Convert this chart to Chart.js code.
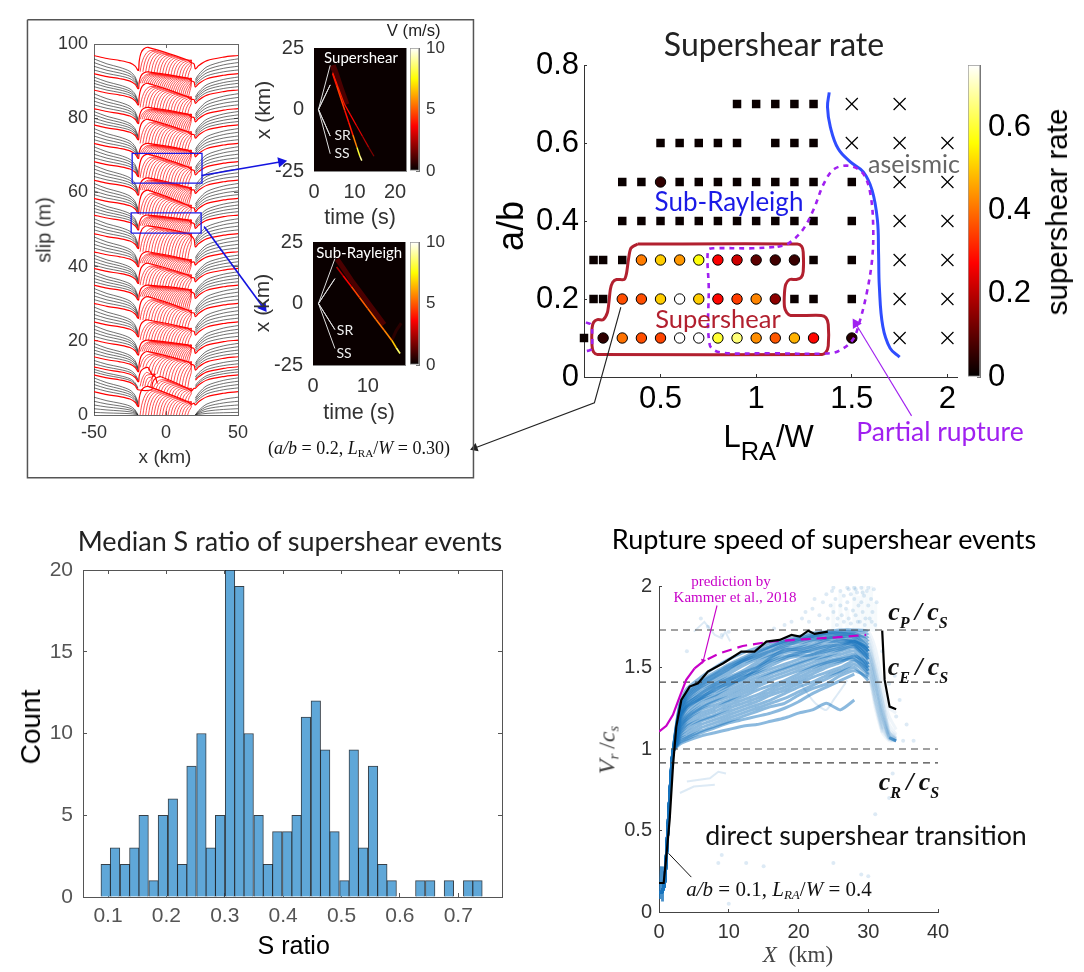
<!DOCTYPE html>
<html>
<head>
<title>Supershear rate</title>
<script src="https://cdn.jsdelivr.net/npm/chart.js"></script>
<style>
  html, body { margin: 0; background: #fff; }
  #page { position: relative; width: 1084px; height: 972px; overflow: hidden; }
  canvas { position: absolute; }
  .lbl { position: absolute; white-space: nowrap; line-height: 1; z-index: 20; }
  .lo { font-size: .62em; vertical-align: -.3em; line-height: 0; }
  .lo2 { font-size: .62em; vertical-align: -.5em; line-height: 0; }
</style>
</head>
<body>
<div id="page"></div>
<script>
// ---- slip history panel, one row per event, lowest first (m)
const farLevels = [6.3,10.8,13,15.7,20.2,25.1,30.1,35,39.5,44,48.9,53.9,58.4,63.3,68.3,73.2,78.2,82.6,87.6,92,96.9];
const topLeft   = [7.7,10.3,12.8,17.1,20.2,25.6,31.9,35,40.9,44,51,53.9,60.6,63.9,70.3,73.2,79.7,82.9,89.4,92.5,99.1];
const topRight  = [3.6,7.2,11,14.4,18.9,23.4,28.3,33.9,37.8,41.9,49,52.6,56.6,61.4,66.9,71.4,76.4,81.1,85.8,90.8,95.7];
const blobLeft  = [-18,-9,-18,-18,-18,-18,-18,-18,-18,-18,-18,-18,-18,-18,-18,-18,-18,-18,-18,-18,-18];
const blobRight = [18,18,-7,18,18,18,18,18,18,18,18,18,18,18,18,18,18,18,18,18,18];
const stripes   = [18,14,6,18,26,18,18,26,18,26,18,26,18,26,18,26,18,26,18,26,18];
const blackLevels = [0.7,1.7,2.7,3.7,4.8,7.3,8.2,9.1,10,11.6,12.3,13.8,14.7,16.6,17.5,18.4,19.3,21.2,22.2,23.1,24.1,26.1,27.1,28.1,29.1,31.1,32.1,33.1,34.1,35.9,36.8,37.7,38.6,40.4,41.3,42.2,43.1,45,46,47,48,49.9,50.9,51.9,52.9,54.8,55.7,56.6,57.5,59.4,60.4,61.4,62.4,64.3,65.3,66.3,67.3,69.3,70.3,71.3,72.3,74.2,75.2,76.2,77.2,79.1,80,80.9,81.8,83.6,84.6,85.6,86.6,88.5,89.4,90.2,91.1,93,94,95,96];
const leftEdgeX = [-50,-41,-32,-25,-21.4,-19.5];
const leftEdgeDrop = [0,.2,.34,.5,.72,1];
const rightEdgeX = [20.4,22.7,28.5,40,50];
const rightEdgeDrop = [1,.75,.38,.12,0];
const rect1X = [-23.5,25,25,-23.5,-23.5], rect1Y = [62.5,62.5,70.5,70.5,62.5];
const rect2X = [-24.2,24.4,24.4,-24.2,-24.2], rect2Y = [49,49,54.5,54.5,49];

// ---- velocity insets (time s, x km, V m/s)
const ss1T = [4.6,5.6,6.6,7.6,8.6,9.6,10.6,11.3,11.8];
const ss1X = [14.5,9.6,4.6,-0.4,-5.4,-10.4,-15.4,-18.9,-20.8];
const ss1V = [4,4.5,4.5,3.8,4,5.5,8,9,6];
const sr1T = [4.6,6,7.5,9,10.5,12,13.5,14.8];
const sr1X = [15,8.8,2.2,-2.2,-6.6,-11,-15.4,-19];
const sr1V = [4,4,3.8,3.6,3.2,2.6,1.8,.7];
const glow1T = [4.6,5.4,6.5,8], glow1X = [18,14.5,9,2];
const rule1T = [4,1.1,4,1.1,4,1.1,4], rule1X = [18,0,10,0,-10.8,0,-18];
const main2T = [4.3,5.5,7,8.5,10,11.5,13,14.4,15.2,15.9];
const main2X = [14.8,11.3,6.9,2.4,-2,-6.5,-10.9,-15,-18,-20.3];
const main2V = [2.5,3.6,4.6,5,5.2,5.3,5.6,6.6,8.5,4.5];
const glow2T = [4.4,5.5,7,9,11,13], glow2X = [18,14.5,9.5,3.5,-2.5,-8.5];
const tail2T = [14.4,15.2,16.1], tail2X = [-15,-11,-8];
const rule2T = [4,1,4,1,4,1,4], rule2X = [18.2,0,10.1,0,-10.6,0,-18.3];

// ---- supershear rate map (L_RA/W, a/b, rate)
const squareX = [.9,1,1.1,1.2,1.3, .5,.6,.7,.8,.9,1.1,1.2,1.3, .3,.4,.6,.7,.8,.9,1,1.1,1.2,1.3,1.5, .3,.4,.5,.6,.7,.8,.9,1,1.1,1.2,1.3,1.5, .15,.2,.3,1.3,1.5, .15,.2,1.2,1.3,1.5, .1];
const squareY = [.7,.7,.7,.7,.7, .6,.6,.6,.6,.6,.6,.6,.6, .5,.5,.5,.5,.5,.5,.5,.5,.5,.5,.5, .4,.4,.4,.4,.4,.4,.4,.4,.4,.4,.4,.4, .3,.3,.3,.3,.3, .2,.2,.2,.2,.2, .1];
const crossX = [1.5,1.75, 1.5,1.75,2, 1.75,2, 1.75,2, 1.75,2, 1.75,2, 1.75,2];
const crossY = [.7,.7, .6,.6,.6, .5,.5, .4,.4, .3,.3, .2,.2, .1,.1];
const circleX = [.5, .4,.5,.6,.7,.8,.9,1,1.1,1.2, .3,.4,.5,.6,.7,.8,.9,1,1.1, .2,.3,.4,.5,.6,.7,.8,.9,1,1.1,1.2,1.3,1.5];
const circleY = [.5, .3,.3,.3,.3,.3,.3,.3,.3,.3, .2,.2,.2,.2,.2,.2,.2,.2,.2, .1,.1,.1,.1,.1,.1,.1,.1,.1,.1,.1,.1,.1];
const circleRate = [.05, .41,.5,.44,.57,.27,.22,.1,.07,.06, .36,.36,.5,.75,.5,.28,.34,.42,.15, .05,.4,.36,.35,.75,.75,.6,.65,.43,.37,.47,.28,.04];
const aseismicX = [1.382,1.373,1.388,1.429,1.494,1.56,1.606,1.634,1.64,1.644,1.662,1.70,1.75];
const aseismicY = [.73,.692,.641,.585,.551,.526,.479,.402,.317,.232,.13,.074,.051];
const partialX = [1.112,1.168,1.243,1.299,1.354,1.41,1.494,1.56,1.597,1.612,1.606,1.578,1.541,1.504,1.429,1.354,1.075,.813,.757,.752,.748,.776,.981,1.112];
const partialY = [.334,.342,.377,.428,.496,.534,.541,.521,.47,.385,.3,.215,.142,.095,.066,.06,.061,.063,.083,.232,.325,.33,.33,.334];
const partialLeftX = [.11,.135,.142,.142,.135,.11];
const partialLeftY = [.14,.135,.12,.08,.07,.066];
const ssOutlineX = [.38,1.215,1.238,1.246,1.246,1.235,1.21,1.175,1.155,1.148,1.148,1.16,1.18,1.34,1.365,1.377,1.377,1.365,1.345,.17,.15,.142,.142,.15,.17,.2,.222,.23,.238,.25,.27,.31,.322,.332,.345,.38];
const ssOutlineY = [.341,.341,.335,.32,.27,.255,.25,.25,.238,.215,.18,.165,.158,.158,.152,.135,.08,.064,.058,.058,.064,.08,.125,.14,.147,.147,.165,.19,.225,.243,.25,.25,.265,.3,.33,.341];

// ---- histogram of median S ratio
const binCenters = [.096,.112,.129,.145,.161,.178,.194,.211,.227,.243,.26,.276,.292,.309,.325,.341,.358,.374,.39,.407,.423,.439,.456,.472,.488,.505,.521,.537,.554,.57,.586,.603,.619,.635,.652,.668,.684,.701,.717,.733];
const binCounts = [2,3,2,3,5,1,5,6,2,8,10,3,5,20,19,10,5,2,4,4,5,11,12,9,4,1,9,3,8,2,1,0,0,1,1,0,1,0,1,1];

// ---- rupture speed, shared early rise then one row per event on vrGrid
const riseX = [0,.4,.8,1.2,1.6,2];
const riseV = [.12,.12,.18,.45,.75,.98];
const vrGrid = [3,4,6,8,10,12,14,16,18,20,22,24,26,28,30,31,32,33,34];
const vrCurves = [
  [1.28,1.37,1.44,1.50,1.55,1.59,1.62,1.65,1.67,1.69,1.71,1.72,1.73,1.73,1.72,1.62,1.42,1.25,1.22],
  [1.27,1.34,1.41,1.46,1.51,1.55,1.59,1.63,1.66,1.67,1.69,1.71,1.71,1.70,1.68,1.52,1.32,1.15,1.09],
  [1.26,1.35,1.42,1.47,1.52,1.56,1.60,1.63,1.66,1.68,1.70,1.71,1.72,1.72,1.70,1.55,1.35,1.20,1.12],
  [1.25,1.33,1.40,1.45,1.50,1.54,1.58,1.62,1.65,1.67,1.69,1.70,1.71,1.71,1.66,1.48,1.30,1.12,1.08],
  [1.24,1.31,1.38,1.43,1.48,1.53,1.56,1.60,1.63,1.66,1.68,1.69,1.70,1.70,1.62,1.45,1.25,1.10,1.07],
  [1.23,1.32,1.39,1.44,1.49,1.54,1.57,1.60,1.64,1.65,1.67,1.68,1.69,1.69,1.64,1.46,1.28,1.11,1.07],
  [1.22,1.30,1.37,1.41,1.46,1.51,1.55,1.58,1.62,1.63,1.66,1.68,1.69,1.68,1.60,1.40,1.22,1.09,1.06],
  [1.21,1.29,1.35,1.40,1.44,1.48,1.53,1.57,1.60,1.62,1.64,1.67,1.68,1.66,1.62,1.50,1.30,1.10,1.06],
  [1.20,1.28,1.33,1.38,1.42,1.46,1.51,1.55,1.59,1.60,1.62,1.64,1.67,1.65,1.58,1.42,1.20,1.08,1.05],
  [1.19,1.27,1.34,1.39,1.43,1.47,1.50,1.56,1.61,1.61,1.63,1.66,1.66,1.67,1.60,1.44,1.24,1.09,1.06],
  [1.20,1.26,1.31,1.37,1.40,1.43,1.49,1.54,1.57,1.58,1.61,1.63,1.64,1.66,1.57,1.40,1.20,1.08,1.05],
  [1.18,1.26,1.32,1.36,1.41,1.45,1.48,1.53,1.56,1.59,1.60,1.62,1.65,1.64,1.55,1.38,1.18,1.07,1.05],
  [1.17,1.25,1.31,1.35,1.39,1.44,1.47,1.51,1.55,1.57,1.58,1.61,1.63,1.66,1.60,1.45,1.25,1.10,1.06],
  [1.16,1.23,1.30,1.33,1.38,1.42,1.46,1.49,1.52,1.55,1.58,1.60,1.62,1.64,1.56,1.36,1.20,1.07,1.05],
  [1.15,1.21,1.28,1.32,1.36,1.40,1.44,1.47,1.50,1.53,1.56,1.59,1.61,1.63,1.52,1.32,1.16,1.06,1.05],
  [1.14,1.20,1.26,1.30,1.34,1.38,1.42,1.46,1.49,1.52,1.55,1.57,1.60,1.62,1.55,1.40,1.22,1.08,1.06],
  [1.13,1.19,1.25,1.29,1.32,1.36,1.40,1.44,1.47,1.50,1.53,1.56,1.58,1.60,1.50,1.30,1.14,1.06,1.05],
  [1.12,1.18,1.24,1.27,1.30,1.34,1.38,1.42,1.45,1.48,1.51,1.54,1.56,1.58,1.48,1.28,1.12,1.06,1.05],
  [1.11,1.17,1.22,1.25,1.29,1.32,1.36,1.39,1.42,1.46,1.50,1.53,1.55,1.56,1.50,1.35,1.15,1.07,1.05],
  [1.10,1.15,1.20,1.23,1.27,1.30,1.33,1.37,1.40,1.44,1.48,1.52,1.54,1.55,1.46,1.25,1.10,1.05,1.05],
  [1.09,1.14,1.18,1.21,1.25,1.28,1.31,1.35,1.38,1.42,1.46,1.50,1.53,1.57,1.52,1.36,1.18,1.07,null],
  [1.08,1.12,1.17,1.20,1.23,1.26,1.29,1.33,1.36,1.40,1.44,1.47,1.50,1.54,1.48,1.30,1.12,null,null],
  [1.07,1.10,1.15,1.18,1.21,1.24,1.27,1.30,1.34,1.38,1.41,1.45,1.48,1.52,1.45,1.28,1.10,null,null],
  [1.06,1.08,1.13,1.16,1.19,1.22,1.25,1.28,1.31,1.35,1.39,1.43,1.47,1.50,1.42,null,null,null,null],
  [1.05,1.07,1.11,1.14,1.17,1.20,1.23,1.26,1.28,1.33,1.37,1.40,1.45,1.48,1.44,null,null,null,null],
  [1.04,1.06,1.10,1.13,1.16,1.18,1.20,1.22,1.25,1.29,1.34,1.38,1.42,1.46,null,null,null,null,null],
  [1.03,1.05,1.08,1.10,1.12,1.14,1.15,1.17,1.19,1.22,1.24,1.28,1.24,1.30,null,null,null,null,null]
];
const strayAX = [3,5,8], strayAY = [.73,.77,.78];
const strayBX = [4,7.3,8.5,9.6], strayBY = [.8,.82,.86,.85];
const strayCX = [5,6.5,8,9,9.5,10.2], strayCY = [1.72,1.78,1.7,1.68,1.72,1.66];
const strayDX = [20,22,23,24,25,26,27], strayDY = [1.42,1.3,1.26,1.24,1.3,1.36,1.42];
const sprayX = [20.5,21,21.5,22,22.3,23,23.5,24,24.2,24.6,25,25,25.3,25.6,26,26,26.2,26.5,26.8,27,27,27.2,27.5,27.8,28,28,28.2,28.4,28.6,28.8,29,29,29.2,29.4,29.6,29.8,30,30,30.2,30.4,30.6,30.8,31,31.2,25.5,26.5,27.5,28.5,29.5,30.5,24.8,27.2,28.2,29.2,8.5,9,10,12.5,15,25,29,30,31,33,33.5,35,36.5,34,33,32,7,6,4,9,10,35.5,34.5,33.8,19,18,16.5];
const sprayY = [1.8,1.84,1.78,1.86,1.92,1.82,1.9,1.95,1.8,1.88,1.99,1.84,1.92,1.8,1.97,1.88,1.82,1.94,1.86,1.99,1.9,1.8,1.95,1.85,1.99,1.92,1.82,1.96,1.88,1.78,1.99,1.9,1.84,1.94,1.8,1.97,1.99,1.88,1.8,1.92,1.84,1.98,1.76,1.9,1.76,1.78,1.77,1.78,1.76,1.78,1.97,1.98,1.98,1.96,.3,.35,.05,.3,.28,.3,.23,.22,.6,.7,.85,1.05,1.05,1.2,1.4,1.6,1.75,1.8,1.6,1.7,1.72,1.15,1.3,1.45,1.78,1.76,1.74];
const hazeX = [25,26,27,28,28.6,29.2,29.8,30.4,31];
const hazeTop = [1.9,1.96,1.86,2,1.94,2,1.96,2,1.9];
const blackX = [0,.67,1.05,1.53,2,2.48,3.2,4.4,5.6,7,9.2,11.8,13.7,15.4,17.3,19,20.2,21.4,22.3,24.2];
const blackV = [.178,.178,.341,.566,.893,1.138,1.301,1.383,1.403,1.475,1.526,1.598,1.598,1.659,1.669,1.70,1.69,1.726,1.706,1.72];
const blackTailX = [32,32.35,33.06,34];
const blackTailV = [1.726,1.424,1.26,1.244];
const kammerX = [0,1.05,2,2.96,3.9,5.1];
const kammerV = [1.107,1.142,1.21,1.32,1.424,1.495];
const kammerDashX = [5.1,6.3,8.7,12,15.9,20.6,25.4,29.7];
const kammerDashV = [1.495,1.536,1.587,1.632,1.659,1.673,1.685,1.70];
const waveRatios = [1.73,1.41,1,.915];

const SANS = '"Liberation Sans", Arial, sans-serif';
const LATO = 'Lato, sans-serif';
const SERIF = '"Liberation Serif", serif';
const page = document.getElementById('page');

function zip(xs, ys) { return xs.map((x, i) => ({ x: x, y: ys[i] === null ? NaN : ys[i] })); }

// matlab "hot" map, f in 0..1
function hot(f) {
  const c = v => Math.round(255 * Math.min(1, Math.max(0, v)));
  return 'rgb(' + c(f / .365) + ',' + c((f - .365) / .375) + ',' + c((f - .75) / .25) + ')';
}

function label(html, x, y, css, rot) {
  const d = document.createElement('div');
  d.className = 'lbl';
  d.innerHTML = html;
  d.style.cssText = 'left:' + x + 'px;top:' + y + 'px;transform:translate(-50%,-50%)' + (rot ? ' rotate(-90deg)' : '') + ';' + css;
  page.appendChild(d);
}

// box = plot rectangle in page pixels, m = room around it for ticks
function makeChart(box, m, config) {
  const cv = document.createElement('canvas');
  const w = box.x1 - box.x0 + m.l + m.r, h = box.y1 - box.y0 + m.t + m.b;
  cv.width = Math.round(w); cv.height = Math.round(h);
  cv.style.left = (box.x0 - m.l) + 'px';
  cv.style.top = (box.y0 - m.t) + 'px';
  page.appendChild(cv);
  config.options = Object.assign({
    responsive: false, animation: false, events: [],
    plugins: { legend: { display: false }, tooltip: { enabled: false } },
    elements: { point: { radius: 0 } }
  }, config.options);
  config.options.layout = { padding: { top: m.t, right: m.rp === undefined ? m.r : m.rp, left: m.lp || 0, bottom: m.bp || 0 } };
  return new Chart(cv.getContext('2d'), config);
}

function axis(o) {
  return {
    type: 'linear', position: o.pos, min: o.min, max: o.max, offset: false,
    afterBuildTicks: s => { s.ticks = o.vals.map(v => ({ value: v })); },
    afterFit: s => { if (s.isHorizontal()) s.height = o.size; else s.width = o.size; },
    border: { display: true, color: o.line || '#555', width: o.lw || 1 },
    grid: { drawOnChartArea: false, drawTicks: true, offset: false, tickLength: -(o.tick === undefined ? 4 : o.tick), tickColor: o.line || '#555' },
    ticks: {
      display: !o.hide, autoSkip: false, maxRotation: 0, padding: (o.pad || 0) + (o.tick === undefined ? 4 : o.tick),
      color: o.color || '#333', font: { family: SANS, size: o.fs || 18 },
      callback: v => String(v)
    }
  };
}

function line(xs, ys, color, width, extra) {
  return Object.assign({ data: zip(xs, ys), showLine: true, borderColor: color, borderWidth: width, pointRadius: 0, fill: false }, extra || {});
}

const darkBg = { id: 'darkBg', beforeDatasetsDraw(c) {
  const a = c.chartArea;
  c.ctx.save(); c.ctx.fillStyle = '#0a0000';
  c.ctx.fillRect(a.left, a.top, a.right - a.left, a.bottom - a.top);
  c.ctx.restore();
} };

function colorbar(box, maxVal, vals, fs, pad, rightRoom) {
  makeChart(box, { l: 2, t: 40, r: rightRoom, b: 40, lp: 2, rp: 0, bp: 40 }, {
    type: 'bar',
    data: { labels: [''], datasets: [{
      data: [[0, maxVal]], barPercentage: 1, categoryPercentage: 1, borderWidth: 1, borderColor: '#999', borderSkipped: false,
      backgroundColor: ctx => {
        const a = ctx.chart.chartArea;
        if (!a) return '#000';
        const g = ctx.chart.ctx.createLinearGradient(0, a.bottom, 0, a.top);
        g.addColorStop(0, '#000'); g.addColorStop(.365, '#f00'); g.addColorStop(.75, '#ff0'); g.addColorStop(1, '#fff');
        return g;
      }
    }] },
    options: { scales: {
      x: { display: false },
      y: axis({ pos: 'right', min: 0, max: maxVal, vals: vals, size: rightRoom, fs: fs, pad: pad, tick: 3, line: '#777', color: fs > 20 ? '#000' : '#333' })
    } }
  });
}

// ---------- panel: slip history
function slipDatasets() {
  const topAt = (k, x) => {
    const a = blobLeft[k] + 4, b = blobRight[k] - 3;
    const t = Math.max(0, Math.min(1, (x - a) / (b - a)));
    return topLeft[k] + (topRight[k] - topLeft[k]) * t;
  };
  const bottomAt = (k, x) => {
    for (let j = k - 1; j >= 0; j--) if (x >= blobLeft[j] - 1 && x <= blobRight[j] + 1) return topAt(j, x);
    return 0;
  };
  const black = [], contour = [], tops = [];
  const gap = { x: NaN, y: NaN };
  blackLevels.forEach(F => {
    let E = 0;
    farLevels.forEach(v => { if (v <= F) E = v; });
    const pl = Math.max(0, E - 4 + .3 * (F - E)), pr = Math.max(0, E - 3.6 + .5 * (F - E));
    leftEdgeX.forEach((x, i) => black.push({ x: x, y: F - (F - pl) * leftEdgeDrop[i] }));
    black.push(gap);
    rightEdgeX.forEach((x, i) => black.push({ x: x, y: F - (F - pr) * rightEdgeDrop[i] }));
    black.push(gap);
  });
  const reach = [0, 1, 2.5, 4.5, 7, 11];
  const rise = [0, .32, .58, .78, .92, 1];
  farLevels.forEach((F, k) => {
    const xL = blobLeft[k], xR = blobRight[k], n = stripes[k];
    for (let i = 0; i < n; i++) {
      const fx = xL + (xR - 1 - xL) * i / n;
      reach.forEach((r, j) => {
        const x = Math.min(fx + r, xR - .5);
        const b = bottomAt(k, x), t = topAt(k, x);
        contour.push({ x: x, y: b + (t - b) * rise[j] });
      });
      contour.push(gap);
    }
    const pl = F - 4, pr = F - 3.6, tl = topLeft[k], tr = topRight[k];
    leftEdgeX.forEach((x, i) => tops.push({ x: x, y: F - 4 * leftEdgeDrop[i] }));
    [[-1, 0], [-.6, .4], [.6, .75], [2.5, .93], [5.5, 1]].forEach(p => tops.push({ x: xL + p[0], y: pl + (tl - pl) * p[1] }));
    tops.push({ x: xR - 3, y: tr }, { x: xR - .5, y: tr - .7 });
    if (xR > 0) tops.push({ x: xR + 1.5, y: tr - .45 * (tr - pr) });
    else tops.push({ x: xR + 1, y: tr - 2.5 }, gap);
    rightEdgeX.forEach((x, i) => tops.push({ x: x, y: F - 3.6 * rightEdgeDrop[i] }));
    tops.push(gap);
  });
  return [
    line(rect1X, rect1Y, '#1a1ae6', 1.3),
    line(rect2X, rect2Y, '#1a1ae6', 1.3),
    { data: tops, showLine: true, borderColor: '#f00', borderWidth: 1.2, pointRadius: 0, tension: .3 },
    { data: contour, showLine: true, borderColor: '#f00', borderWidth: .7, pointRadius: 0, tension: .3 },
    { data: black, showLine: true, borderColor: 'rgba(30,30,30,.8)', borderWidth: .8, pointRadius: 0, tension: .3 }
  ];
}
makeChart({ x0: 94, y0: 44, x1: 237.5, y1: 415 }, { l: 70, t: 40, r: 40, b: 45 }, {
  type: 'scatter',
  data: { datasets: slipDatasets() },
  options: { scales: {
    x: axis({ pos: 'bottom', min: -50, max: 50, vals: [-50, 0, 50], size: 45, fs: 18, pad: 7, line: '#666' }),
    y: axis({ pos: 'left', min: 0, max: 100, vals: [0, 20, 40, 60, 80, 100], size: 70, fs: 18, pad: 6, line: '#666' }),
    x2: axis({ pos: 'top', min: -50, max: 50, vals: [-50, 0, 50], size: 0, hide: true, line: '#666' }),
    y2: axis({ pos: 'right', min: 0, max: 100, vals: [0, 20, 40, 60, 80, 100], size: 0, hide: true, line: '#666' })
  } }
});

// ---------- velocity insets
function inset(box, tMax, tVals, datasets) {
  makeChart(box, { l: 58, t: 40, r: 40, b: 40 }, {
    type: 'scatter',
    data: { datasets: datasets },
    plugins: [darkBg],
    options: { scales: {
      x: axis({ pos: 'bottom', min: 0, max: tMax, vals: tVals, size: 40, fs: 20, pad: 9, tick: 0, line: '#888' }),
      y: axis({ pos: 'left', min: -25, max: 25, vals: [-25, 0, 25], size: 58, fs: 20, pad: 10, tick: 0, line: '#888' }),
      x2: axis({ pos: 'top', min: 0, max: tMax, vals: [], size: 0, hide: true, line: '#888' }),
      y2: axis({ pos: 'right', min: -25, max: 25, vals: [], size: 0, hide: true, line: '#888' })
    } }
  });
}
const byV = v => ({ segment: { borderColor: c => hot(v[c.p0DataIndex] / 10) } });
inset({ x0: 313.7, y0: 48, x1: 406, y1: 171 }, 22.7, [0, 10, 20], [
  line(rule1T, rule1X, '#ddd', 1),
  line(ss1T, ss1X, '#f00', 1.5, byV(ss1V)),
  line(sr1T, sr1X, '#f00', 1.2, byV(sr1V)),
  line(glow1T, glow1X, '#4a0000', 6)
]);
inset({ x0: 313, y0: 241.7, x1: 405, y1: 365 }, 16.8, [0, 10], [
  line(rule2T, rule2X, '#ddd', 1),
  line(main2T, main2X, '#f00', 1.6, byV(main2V)),
  line(glow2T, glow2X, '#4a0000', 5),
  line(tail2T, tail2X, '#2a0000', 3)
]);
colorbar({ x0: 410, y0: 48, x1: 419, y1: 171 }, 10, [0, 5, 10], 17, 7, 34);
colorbar({ x0: 410, y0: 241.7, x1: 419, y1: 365 }, 10, [0, 5, 10], 17, 7, 34);

// ---------- panel: supershear rate map
makeChart({ x0: 583.7, y0: 64.7, x1: 956.6, y1: 377 }, { l: 70, t: 40, r: 40, b: 45 }, {
  type: 'scatter',
  data: { datasets: [
    line(partialX, partialY, '#a020f0', 2.6, { borderDash: [5, 5], tension: .35 }),
    line(partialLeftX, partialLeftY, '#a020f0', 2.6, { borderDash: [5, 5], tension: .3, clip: false }),
    { data: zip(circleX, circleY), pointRadius: 5.2, pointBorderColor: '#000', pointBorderWidth: 1,
      pointBackgroundColor: circleRate.map(r => hot(r / .75)), clip: false },
    { data: zip(squareX, squareY), pointStyle: 'rect', pointRadius: 6, pointBackgroundColor: '#0a0000', pointBorderWidth: 0, clip: false },
    { data: zip(crossX, crossY), pointStyle: 'crossRot', pointRadius: 8.5, pointBorderColor: '#000', pointBorderWidth: 1.2, clip: false },
    line(ssOutlineX, ssOutlineY, '#b2202f', 3, { tension: .25 }),
    line(aseismicX, aseismicY, '#2f4dff', 3, { tension: .4 })
  ] },
  options: { scales: {
    x: axis({ pos: 'bottom', min: .1, max: 2.05, vals: [.5, 1, 1.5, 2], size: 45, fs: 31, pad: 4, tick: 3, line: '#333', color: '#000' }),
    y: axis({ pos: 'left', min: 0, max: .8, vals: [0, .2, .4, .6, .8], size: 70, fs: 31, pad: 5, tick: 3, line: '#333', color: '#000' })
  } }
});
colorbar({ x0: 967.7, y0: 64.7, x1: 980, y1: 377 }, .75, [0, .2, .4, .6], 31, 8, 60);

// ---------- panel: histogram
const boxX = { pos: 'top', min: .0571, max: .775, vals: [.1, .2, .3, .4, .5, .6, .7], size: 0, hide: true, line: '#555' };
const boxY = { pos: 'right', min: 0, max: 20, vals: [0, 5, 10, 15, 20], size: 0, hide: true, line: '#555' };
makeChart({ x0: 83, y0: 570, x1: 502, y1: 897 }, { l: 75, t: 40, r: 40, b: 40 }, {
  type: 'bar',
  data: { datasets: [{
    data: zip(binCenters, binCounts), barThickness: 9.53,
    backgroundColor: '#5fa7d8', borderColor: 'rgba(20,30,40,.85)', borderWidth: 1
  }] },
  options: { scales: {
    x: axis({ pos: 'bottom', min: .0571, max: .775, vals: boxX.vals, size: 40, fs: 21, pad: 7, line: '#555', color: '#555' }),
    y: axis({ pos: 'left', min: 0, max: 20, vals: boxY.vals, size: 75, fs: 21, pad: 10, line: '#555', color: '#555' }),
    x2: axis(boxX),
    y2: axis(boxY)
  } }
});

// ---------- panel: rupture speed
function vrDatasets() {
  const list = [];
  const tailFade = { segment: { borderColor: c => c.p0.parsed.x >= 30 ? 'rgba(24,116,189,.07)' : 'rgba(24,116,189,.5)' } };
  list.push(line(blackX, blackV, '#000', 2.2));
  list.push(line(blackTailX, blackTailV, '#000', 2.2));
  list.push(line(kammerX, kammerV, '#c800c8', 2.2));
  list.push(line(kammerDashX, kammerDashV, '#c800c8', 2.2, { borderDash: [10, 6] }));
  waveRatios.forEach(v => list.push(line([0, 40], [v, v], '#444', 1.2, { borderDash: [7, 5] })));
  vrCurves.forEach(c => list.push(line(riseX.concat(vrGrid), riseV.concat(c), 'rgba(24,116,189,.5)', 3, Object.assign({ tension: .2 }, tailFade))));
  list.push(line([33, 34], [1.07, 1.05], 'rgba(24,116,189,.6)', 3));
  list.push(line([.3, .35, .5], [.08, .16, .28], 'rgba(24,116,189,.8)', 5));
  list.push(line(strayAX, strayAY, 'rgba(24,116,189,.15)', 2));
  list.push(line(strayBX, strayBY, 'rgba(24,116,189,.15)', 2));
  list.push(line(strayCX, strayCY, 'rgba(24,116,189,.15)', 2));
  list.push(line(strayDX, strayDY, 'rgba(24,116,189,.15)', 2, { tension: .3 }));
  hazeX.forEach((x, i) => list.push(line([x, x], [1.72, hazeTop[i]], 'rgba(24,116,189,.04)', 4)));
  list.push({ data: zip(sprayX, sprayY), pointRadius: 2, pointBackgroundColor: 'rgba(24,116,189,.15)', pointBorderWidth: 0 });
  return list;
}
makeChart({ x0: 659.3, y0: 586, x1: 938.3, y1: 912.3 }, { l: 60, t: 40, r: 40, b: 40 }, {
  type: 'scatter',
  data: { datasets: vrDatasets() },
  options: { scales: {
    x: axis({ pos: 'bottom', min: 0, max: 40, vals: [0, 10, 20, 30, 40], size: 40, fs: 20, pad: 8, tick: 3, line: '#444' }),
    y: axis({ pos: 'left', min: 0, max: 2, vals: [0, .5, 1, 1.5, 2], size: 60, fs: 20, pad: 7, tick: 3, line: '#444' })
  } }
});

// ---------- frame, arrows and callouts in page pixels
const callouts = [
  { pts: [[21.7, 14], [472.7, 14], [472.7, 477.7], [21.7, 477.7], [21.7, 14]], color: '#555', w: 1.5 },
  { pts: [[197.7, 171.7], [278.3, 157.7]], color: '#1414e0', w: 1.6, head: 6 },
  { pts: [[200.3, 223.3], [260, 305]], color: '#1414e0', w: 1.6, head: 6 },
  { pts: [[621.7, 305], [595, 401.7], [474, 447.5]], color: '#222', w: 1.1, head: 5 },
  { pts: [[915.7, 415], [859.3, 321.7]], color: '#a020f0', w: 1.1, head: 6 },
  { pts: [[719, 607], [705, 663]], color: '#c800c8', w: 1.1, head: 3 },
  { pts: [[670, 858], [693, 882]], color: '#111', w: 1 }
];
const overlay = [];
callouts.forEach(c => {
  const xs = c.pts.map(p => p[0]), ys = c.pts.map(p => p[1]);
  overlay.push(line(xs, ys, c.color, c.w));
  if (c.head) {
    const a = c.pts[c.pts.length - 2], b = c.pts[c.pts.length - 1];
    overlay.push({ data: [{ x: b[0], y: b[1] }], pointStyle: 'triangle', pointRadius: c.head, pointBorderWidth: 0,
      pointBackgroundColor: c.color, pointRotation: Math.atan2(b[0] - a[0], a[1] - b[1]) * 180 / Math.PI });
  }
});
const overlayChart = makeChart({ x0: 0, y0: 0, x1: 1084, y1: 972 }, { l: 0, t: 0, r: 0, b: 0 }, {
  type: 'scatter',
  data: { datasets: overlay },
  options: { scales: {
    x: { type: 'linear', display: false, min: 0, max: 1084 },
    y: { type: 'linear', display: false, min: 0, max: 972, reverse: true }
  } }
});
overlayChart.canvas.style.zIndex = 10;

// ---------- text
const f = (size, fam, color, extra) => 'font:' + (extra || '') + ' ' + size + 'px ' + fam + ';color:' + color + ';';
label('slip (m)', 44, 230, f(20, SANS, '#333'), true);
label('x (km)', 165, 457, f(19, SANS, '#333'));
label('V (m/s)', 413.7, 30.7, f(16.7, SANS, '#222'));
label('x (km)', 263, 110, f(21, SANS, '#333'), true);
label('time (s)', 360, 217, f(21.5, SANS, '#333'));
label('x (km)', 262, 303, f(21, SANS, '#333'), true);
label('time (s)', 359, 411.7, f(21.5, SANS, '#333'));
label('Supershear', 361, 56.7, f(15, LATO, '#fff'));
label('SR', 342.7, 134, f(14, LATO, '#eee'));
label('SS', 342, 152, f(14, LATO, '#eee'));
label('Sub-Rayleigh', 359.3, 252, f(15, LATO, '#fff'));
label('SR', 345, 329, f(14, LATO, '#eee'));
label('SS', 344, 351.7, f(14, LATO, '#eee'));
label('(<i>a/b</i> = 0.2, <i>L</i><span class="lo">RA</span>/<i>W</i> = 0.30)', 359, 447.7, f(18, SERIF, '#111'));

label('Supershear rate', 774, 43, f(32, LATO, '#222'));
label('a/b', 511, 226, f(36, SANS, '#000'), true);
label('supershear rate', 1057, 212, f(29.5, SANS, '#000'), true);
label('L<span style="font-size:.82em;vertical-align:-.5em;line-height:0">RA</span>/W', 768.6, 437, f(31, SANS, '#000'));
label('Sub-Rayleigh', 729, 201, f(26, LATO, '#1a1ae6'));
label('Supershear', 718, 318, f(25.5, LATO, '#b2202f'));
label('aseismic', 914, 163, f(25, LATO, '#666'));
label('Partial rupture', 940, 431, f(26.5, LATO, '#a020f0'));

label('Median S ratio of supershear events', 290, 540, f(27, LATO, '#222'));
label('Count', 30.7, 727, f(28, SANS, '#000'), true);
label('S ratio', 293.7, 945, f(25, SANS, '#000'));

label('Rupture speed of supershear events', 824, 538, f(27, LATO, '#000'));
label('prediction by', 731, 581, f(15, SERIF, '#c800c8'));
label('Kammer et al., 2018', 735, 597, f(15, SERIF, '#c800c8'));
const cOverS = (a) => '<i>c</i><span class="lo2"><i>' + a + '</i></span><i>&thinsp;/&thinsp;c</i><span class="lo2"><i>S</i></span>';
label(cOverS('P'), 918, 612, f(26, SERIF, '#111', 'bold'));
label(cOverS('E'), 918, 667, f(26, SERIF, '#111', 'bold'));
label(cOverS('R'), 909, 782, f(26, SERIF, '#111', 'bold'));
label('direct supershear transition', 866, 835, f(26.8, LATO, '#111'));
label('<i>a/b</i> = 0.1, <i>L</i><span class="lo"><i>RA</i></span>/<i>W</i> = 0.4', 779, 889, f(21, SERIF, '#111'));
label('<i>V<span class="lo">r</span></i>&thinsp;/<i>c<span class="lo">s</span></i>', 607, 750, f(24, SERIF, '#444'), true);
label('<i>X</i>&ensp;(km)', 798, 955, f(23, SERIF, '#444'));
</script>
</body>
</html>
